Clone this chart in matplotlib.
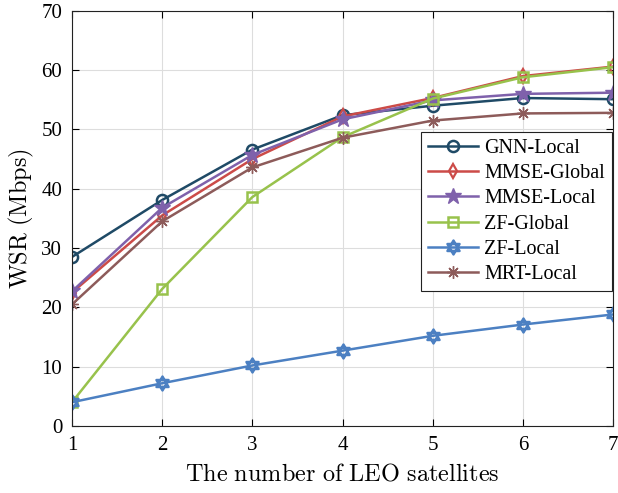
import matplotlib
matplotlib.use('Agg')
import matplotlib.pyplot as plt
import numpy as np
from matplotlib.path import Path

# Datos
sats = [1, 2, 3, 4, 5, 6, 7]
gnn_local = [28.5, 38.1, 46.6, 52.4, 54.0, 55.3, 55.1]
mmse_global = [22.5, 35.5, 45.0, 52.2, 55.3, 59.0, 60.6]
mmse_local = [22.7, 36.8, 45.7, 51.7, 54.9, 56.0, 56.2]
zf_global = [4.0, 23.1, 38.6, 48.7, 55.2, 58.8, 60.5]
zf_local = [4.0, 7.2, 10.2, 12.7, 15.2, 17.1, 18.8]
mrt_local = [20.5, 34.5, 43.6, 48.6, 51.5, 52.7, 52.8]

plt.rcParams['font.family'] = ['Liberation Serif', 'DejaVu Serif']
plt.rcParams['mathtext.fontset'] = 'cm'

# hexagrama (dos triángulos)
ang_up = np.deg2rad([90, 210, 330])
ang_dn = np.deg2rad([270, 30, 150])
verts = []
codes = []
for ang in (ang_up, ang_dn):
    pts = list(zip(np.cos(ang), np.sin(ang)))
    verts += pts + [pts[0]]
    codes += [Path.MOVETO, Path.LINETO, Path.LINETO, Path.CLOSEPOLY]
hexagram = Path(verts, codes)

fig = plt.figure(figsize=(6.18, 4.93), dpi=100)
ax = fig.add_axes([0.1165, 0.136, 0.8755, 0.842])

lw = 1.8
ax.plot(sats, gnn_local, color='#1f4a66', lw=lw, marker='o', ms=8, mfc='none', mew=1.8, label='GNN-Local')
ax.plot(sats, mmse_global, color='#cc4b48', lw=lw, marker='d', ms=7, mfc='none', mew=1.6, label='MMSE-Global')
ax.plot(sats, mmse_local, color='#7f61ab', lw=lw, marker='*', ms=12, label='MMSE-Local')
ax.plot(sats, zf_global, color='#98c24c', lw=lw, marker='s', ms=7, mfc='none', mew=1.8, label='ZF-Global')
ax.plot(sats, zf_local, color='#4c80c2', lw=lw, marker=hexagram, ms=10, mfc='none', mew=1.8, label='ZF-Local')
ax.plot(sats, mrt_local, color='#8d5b5a', lw=lw, marker=(8, 2, 0), ms=9, label='MRT-Local')

ax.set_xlim(1, 7)
ax.set_ylim(0, 70)
ax.set_xticks(sats)
ax.set_yticks(np.arange(0, 71, 10))
ax.tick_params(direction='in', top=True, right=True, labelsize=15, length=5, width=0.8, pad=7)
ax.grid(True, color='#dddddd', lw=0.8)
for s in ax.spines.values():
    s.set_linewidth(0.8)
    s.set_color('#222222')

ax.set_xlabel(r'$\mathrm{The\ number\ of\ LEO\ satellites}$', fontsize=17.5, labelpad=6)
ax.set_ylabel(r'$\mathrm{WSR\ (Mbps)}$', fontsize=17.5, labelpad=4)

leg = ax.legend(loc='upper right', bbox_to_anchor=(0.998, 0.708), fontsize=14.5,
                handlelength=2.5, fancybox=False, edgecolor='#222222', framealpha=1,
                borderpad=0.35, labelspacing=0.3, handletextpad=0.3, borderaxespad=0)
leg.get_frame().set_linewidth(0.8)

plt.savefig('out.png', dpi=100)
plt.close()
